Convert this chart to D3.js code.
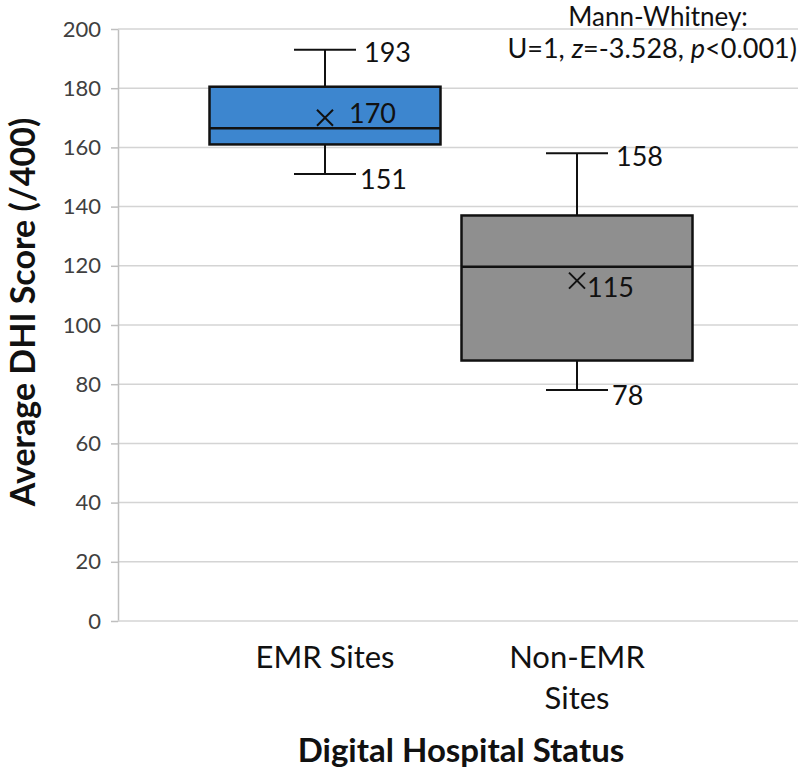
<!DOCTYPE html>
<html><head><meta charset="utf-8">
<script src="https://cdn.jsdelivr.net/npm/d3@7"></script>
<style>body{margin:0;background:#fff}svg{display:block}</style>
</head><body>
<svg id="c" width="800" height="772"></svg>
<script>
const categories = ["EMR Sites", "Non-EMR Sites"];
const categoryLines = [["EMR Sites"], ["Non-EMR", "Sites"]];
const minVals = [151, 78];
const q1Vals = [161, 88];
const medianVals = [166.5, 119.7];
const q3Vals = [180.5, 137];
const maxVals = [193, 158];
const meanVals = [170, 115];
const minLabels = ["151", "78"];
const maxLabels = ["193", "158"];
const meanLabels = ["170", "115"];
const boxColors = ["#3d86cf", "#8f8f8f"];
const yTicks = [0, 20, 40, 60, 80, 100, 120, 140, 160, 180, 200];

const font = "Lato, 'Open Sans', sans-serif";
const svg = d3.select("#c");
const y = d3.scaleLinear().domain([0, 200]).range([621, 29]);
const x = d3.scalePoint().domain(categories).range([199, 703]).padding(0.5);
const boxW = 231, capW = 62;
const plotL = 118, plotR = 798;

// gridlines
svg.append("g").selectAll("line").data(yTicks.filter(d => d > 0)).join("line")
  .attr("x1", plotL).attr("x2", plotR)
  .attr("y1", d => y(d)).attr("y2", d => y(d))
  .attr("stroke", "#d4d4d4").attr("stroke-width", 1.5);

// y axis
const yAxis = svg.append("g").attr("transform", `translate(${plotL},0)`)
  .call(d3.axisLeft(y).tickValues(yTicks).tickSize(7).tickPadding(10).tickSizeOuter(0));
yAxis.select(".domain").attr("stroke", "#bfbfbf").attr("stroke-width", 1.5);
yAxis.selectAll(".tick line").attr("stroke", "#bfbfbf").attr("stroke-width", 1.5);
yAxis.selectAll(".tick text").attr("font-family", font).attr("font-size", 22).attr("fill", "#404040");
// bottom baseline
svg.append("line").attr("x1", plotL).attr("x2", plotR).attr("y1", y(0)).attr("y2", y(0))
  .attr("stroke", "#d4d4d4").attr("stroke-width", 1.5);

// boxes
const data = categories.map((c, i) => ({c, i, min: minVals[i], q1: q1Vals[i], med: medianVals[i], q3: q3Vals[i], max: maxVals[i], mean: meanVals[i]}));
const g = svg.append("g").selectAll("g").data(data).join("g");
g.append("line").attr("x1", d => x(d.c)).attr("x2", d => x(d.c))
  .attr("y1", d => y(d.max)).attr("y2", d => y(d.q3)).attr("stroke", "#111").attr("stroke-width", 2);
g.append("line").attr("x1", d => x(d.c)).attr("x2", d => x(d.c))
  .attr("y1", d => y(d.q1)).attr("y2", d => y(d.min)).attr("stroke", "#111").attr("stroke-width", 2);
g.append("line").attr("x1", d => x(d.c) - capW / 2).attr("x2", d => x(d.c) + capW / 2)
  .attr("y1", d => y(d.max)).attr("y2", d => y(d.max)).attr("stroke", "#111").attr("stroke-width", 2);
g.append("line").attr("x1", d => x(d.c) - capW / 2).attr("x2", d => x(d.c) + capW / 2)
  .attr("y1", d => y(d.min)).attr("y2", d => y(d.min)).attr("stroke", "#111").attr("stroke-width", 2);
g.append("rect").attr("x", d => x(d.c) - boxW / 2).attr("width", boxW)
  .attr("y", d => y(d.q3)).attr("height", d => y(d.q1) - y(d.q3))
  .attr("fill", d => boxColors[d.i]).attr("stroke", "#111").attr("stroke-width", 2.5);
g.append("line").attr("x1", d => x(d.c) - boxW / 2).attr("x2", d => x(d.c) + boxW / 2)
  .attr("y1", d => y(d.med)).attr("y2", d => y(d.med)).attr("stroke", "#111").attr("stroke-width", 2.5);
// mean X
const ms = 8;
g.append("path").attr("d", d => {
  const cx = x(d.c), cy = y(d.mean);
  return `M${cx - ms},${cy - ms}L${cx + ms},${cy + ms}M${cx - ms},${cy + ms}L${cx + ms},${cy - ms}`;
}).attr("stroke", "#111").attr("stroke-width", 2).attr("fill", "none");

// value labels
const lab = (sel) => sel.attr("font-family", font).attr("font-size", 27).attr("fill", "#111").attr("dominant-baseline", "central");
lab(g.append("text").attr("x", d => x(d.c) + capW / 2 + 8).attr("y", d => y(d.max) + 2).text(d => maxLabels[d.i]));
lab(g.append("text").attr("x", d => x(d.c) + capW / 2 + 4).attr("y", d => y(d.min) + 4).text(d => minLabels[d.i]));
lab(g.append("text").attr("x", d => x(d.c) + (d.i === 0 ? 24 : 10)).attr("y", d => y(d.mean) + (d.i === 0 ? -5 : 6)).text(d => meanLabels[d.i]));

// x labels
svg.append("g").selectAll("text").data(categories).join("text")
  .attr("x", d => x(d)).attr("y", 668)
  .attr("text-anchor", "middle").attr("font-family", font).attr("font-size", 31).attr("fill", "#111")
  .each(function(d, i) {
    const t = d3.select(this);
    categoryLines[i].forEach((ln, j) => {
      t.append("tspan").attr("x", x(d)).attr("dy", j === 0 ? 0 : 41).text(ln);
    });
  });

// axis titles
svg.append("text").attr("transform", "translate(35,312) rotate(-90)")
  .attr("text-anchor", "middle").attr("font-family", font).attr("font-weight", "bold")
  .attr("font-size", 34).attr("fill", "#111").text("Average DHI Score (/400)");
svg.append("text").attr("x", 461).attr("y", 762)
  .attr("text-anchor", "middle").attr("font-family", font).attr("font-weight", "bold")
  .attr("font-size", 33).attr("fill", "#111").text("Digital Hospital Status");

// annotation
svg.append("text").attr("x", 658).attr("y", 26).attr("text-anchor", "middle")
  .attr("font-family", font).attr("font-size", 26).attr("fill", "#111").text("Mann-Whitney:");
const ann = svg.append("text").attr("x", 797).attr("y", 58).attr("text-anchor", "end")
  .attr("font-family", font).attr("font-size", 27).attr("fill", "#111");
ann.append("tspan").text("U=1, ");
ann.append("tspan").attr("font-style", "italic").text("z");
ann.append("tspan").text("=-3.528, ");
ann.append("tspan").attr("font-style", "italic").text("p");
ann.append("tspan").text("<0.001)");
</script>
</body></html>
